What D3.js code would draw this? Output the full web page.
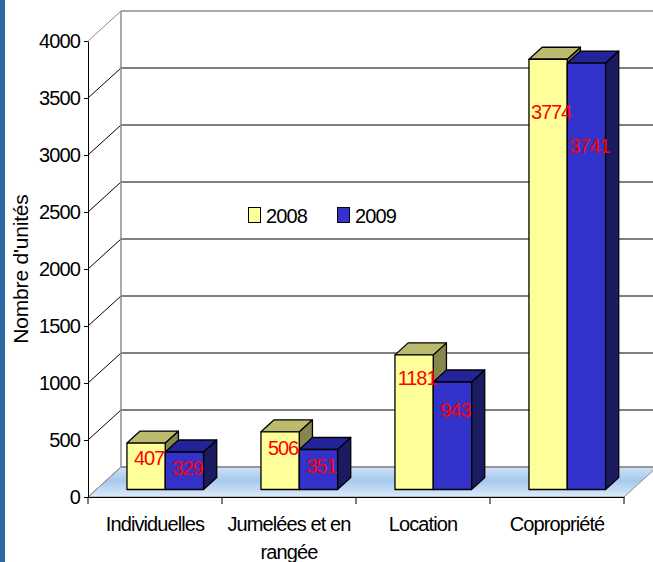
<!DOCTYPE html>
<html>
<head>
<meta charset="utf-8">
<script src="https://cdn.jsdelivr.net/npm/d3@7"></script>
<style>
  body { margin: 0; background: #fff; }
  svg { display: block; font-family: "Liberation Sans", Arial, sans-serif; }
</style>
</head>
<body>
<div id="chart"></div>
<script>
var categories = ["Individuelles", "Jumelées et en rangée", "Location", "Copropriété"];
var series = ["2008", "2009"];
var values2008 = [407, 506, 1181, 3774];
var values2009 = [329, 351, 943, 3741];
var yTicks = [0, 500, 1000, 1500, 2000, 2500, 3000, 3500, 4000];
var yTitle = "Nombre d'unités";

var W = 653, H = 562;
var plotLeft = 88, plotRight = 624, plotTop = 41, plotBottom = 497;
var depthX = 33, depthY = 30;      // oblique depth of the whole plot box
var z0 = 0.25, z1 = 0.65;          // bar front / back inside the depth
var barNudge = 2;                  // bars sit a touch right of the band centre
var labelFrac = [0.9, 0.83];       // where excel drops the value labels
var fs = 20, ls = -0.9;

var colors = [
  {front: "#ffff99", top: "#bbbb70", side: "#87874c"},
  {front: "#3333cc", top: "#24249a", side: "#1b1b62"}
];

var data = categories.map(function(c, i) {
  return {cat: c, vals: [values2008[i], values2009[i]]};
});

var svg = d3.select("#chart").append("svg")
  .attr("width", W).attr("height", H);

// blue strip on the left edge
svg.append("rect").attr("x", 0).attr("y", 0).attr("width", 5).attr("height", H)
  .attr("fill", "#2d6aa3");

/* Scales */
var x = d3.scaleBand().domain(categories).range([plotLeft, plotRight]).padding(0);
var xs = d3.scaleBand().domain(series).range([0, x.bandwidth()])
  .paddingInner(0).paddingOuter(0.75);
var y = d3.scaleLinear().domain([0, 4000]).range([plotBottom, plotTop]);

function P(px, v, z) {
  return [px + z * depthX, y(v) - z * depthY];
}
function poly(pts) {
  return pts.map(function(p) { return p[0] + "," + p[1]; }).join(" ");
}

/* Floor */
var defs = svg.append("defs");
var grad = defs.append("linearGradient").attr("id", "floorGrad")
  .attr("x1", 0).attr("y1", 0).attr("x2", 0).attr("y2", 1);
grad.append("stop").attr("offset", "0%").attr("stop-color", "#cfe2f6");
grad.append("stop").attr("offset", "45%").attr("stop-color", "#a7c9ee");
grad.append("stop").attr("offset", "100%").attr("stop-color", "#dcebfa");

svg.append("polygon")
  .attr("points", poly([P(plotLeft, 0, 0), P(plotRight, 0, 0), P(plotRight, 0, 1), P(plotLeft, 0, 1)]))
  .attr("fill", "url(#floorGrad)")
  .attr("stroke", "#8c8c8c").attr("stroke-width", 1);

/* Grid on side wall and back wall */
var grid = svg.append("g").attr("class", "grid");
yTicks.forEach(function(v) {
  var edge = (v === 0 || v === 4000);
  var col = edge ? "#8c8c8c" : "#000";
  var a = P(plotLeft, v, 0), b = P(plotLeft, v, 1), c = P(plotRight, v, 1);
  grid.append("line").attr("x1", a[0]).attr("y1", a[1]).attr("x2", b[0]).attr("y2", b[1])
    .attr("stroke", col).attr("stroke-width", 1);
  grid.append("line").attr("x1", b[0]).attr("y1", b[1]).attr("x2", c[0] + 40).attr("y2", c[1])
    .attr("stroke", col).attr("stroke-width", edge ? 1.5 : 1);
});
var bw0 = P(plotLeft, 0, 1), bw1 = P(plotLeft, 4000, 1);
grid.append("line").attr("x1", bw0[0]).attr("y1", bw0[1]).attr("x2", bw1[0]).attr("y2", bw1[1])
  .attr("stroke", "#8c8c8c").attr("stroke-width", 1.5);

/* Axes */
var yAxis = d3.axisLeft(y).tickValues(yTicks).tickSize(4).tickSizeOuter(0).tickPadding(4)
  .tickFormat(d3.format("d"));
var gy = svg.append("g").attr("transform", "translate(" + plotLeft + ",0)").call(yAxis);
gy.select(".domain").attr("stroke", "#000");
gy.selectAll(".tick text").attr("font-size", fs).attr("letter-spacing", ls)
  .attr("fill", "#000").attr("font-family", "Liberation Sans, Arial, sans-serif");

var xAxis = d3.axisBottom(x).tickSize(0).tickPadding(20);
var gx = svg.append("g").attr("transform", "translate(0," + plotBottom + ")").call(xAxis);
gx.select(".domain").attr("stroke", "#000");
gx.selectAll(".tick text")
  .attr("font-size", fs).attr("letter-spacing", ls).attr("fill", "#000")
  .attr("font-family", "Liberation Sans, Arial, sans-serif")
  .each(function(d) {
    var t = d3.select(this);
    var words = d.split(" "), lines = [], line = [];
    t.text(null);
    var tmp = t.append("tspan");
    words.forEach(function(w) {
      line.push(w);
      tmp.text(line.join(" "));
      if (tmp.node().getComputedTextLength() > 125 && line.length > 1) {
        line.pop();
        lines.push(line.join(" "));
        line = [w];
      }
    });
    lines.push(line.join(" "));
    tmp.remove();
    lines.forEach(function(l, i) {
      t.append("tspan").attr("x", 0).attr("dy", i === 0 ? "0.71em" : "1.4em").text(l);
    });
    t.attr("dy", null);
  });
// category boundary ticks
gx.selectAll(".edgeTick")
  .data(d3.range(categories.length + 1))
  .enter().append("line")
  .attr("x1", function(i) { return plotLeft + i * x.step(); })
  .attr("x2", function(i) { return plotLeft + i * x.step(); })
  .attr("y1", 0).attr("y2", 7)
  .attr("stroke", "#000");

/* Bars */
var bars = svg.append("g").attr("class", "bars");
data.forEach(function(d) {
  series.forEach(function(s, si) {
    var v = d.vals[si];
    var xl = x(d.cat) + xs(s) + barNudge, xr = xl + xs.bandwidth();
    var g = bars.append("g")
      .attr("stroke", "#000").attr("stroke-width", 1.3).attr("stroke-linejoin", "round");
    g.append("polygon")
      .attr("points", poly([P(xr, 0, z0), P(xr, 0, z1), P(xr, v, z1), P(xr, v, z0)]))
      .attr("fill", colors[si].side);
    g.append("polygon")
      .attr("points", poly([P(xl, v, z0), P(xr, v, z0), P(xr, v, z1), P(xl, v, z1)]))
      .attr("fill", colors[si].top);
    g.append("polygon")
      .attr("points", poly([P(xl, 0, z0), P(xr, 0, z0), P(xr, v, z0), P(xl, v, z0)]))
      .attr("fill", colors[si].front);
  });
});

/* Value labels */
var labels = svg.append("g").attr("class", "labels");
data.forEach(function(d) {
  series.forEach(function(s, si) {
    var v = d.vals[si];
    var xl = x(d.cat) + xs(s) + barNudge, xr = xl + xs.bandwidth();
    var p = P((xl + xr) / 2, v * labelFrac[si], z0);
    labels.append("text")
      .attr("x", p[0] + 3).attr("y", p[1] + 17)
      .attr("text-anchor", "middle")
      .attr("font-size", fs).attr("letter-spacing", -1.1)
      .attr("fill", "#ff0000")
      .text(v);
  });
});

/* Legend */
var legend = svg.append("g").attr("transform", "translate(248,207)");
series.forEach(function(s, si) {
  var lg = legend.append("g").attr("transform", "translate(" + (si * 89) + ",0)");
  lg.append("rect").attr("x", 0.5).attr("y", 0.5).attr("width", 12).attr("height", 15)
    .attr("fill", colors[si].front).attr("stroke", "#000").attr("stroke-width", 1);
  lg.append("text").attr("x", 18).attr("y", 15.5)
    .attr("font-size", fs).attr("letter-spacing", ls).attr("fill", "#000")
    .text(s);
});

/* Y title */
svg.append("text")
  .attr("transform", "translate(28," + ((plotTop + plotBottom) / 2) + ") rotate(-90)")
  .attr("text-anchor", "middle")
  .attr("font-size", 21).attr("letter-spacing", -0.2).attr("fill", "#000")
  .text(yTitle);
</script>
</body>
</html>
